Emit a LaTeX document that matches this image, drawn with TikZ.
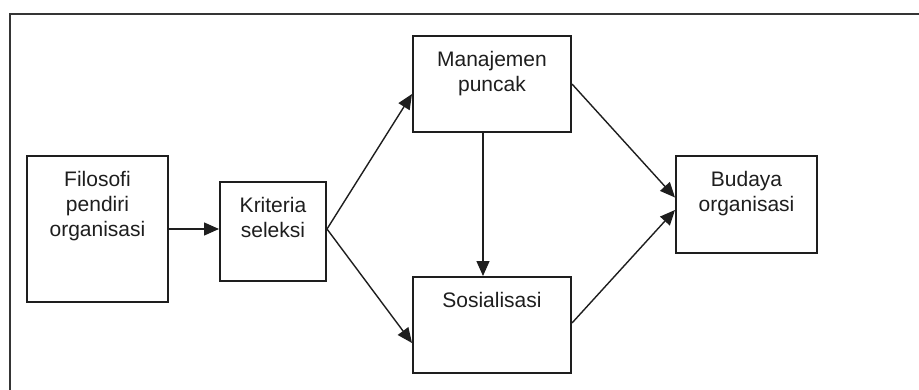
\documentclass[tikz,border=0pt]{standalone}
\usepackage{fontspec}
\setmainfont{Liberation Sans}
\usetikzlibrary{arrows.meta,calc}
\definecolor{ink}{HTML}{1E1E1E}
\begin{document}
\begin{tikzpicture}[x=1pt,y=-1pt,
  box/.style={draw=ink, line width=2pt, rectangle, inner sep=0pt},
  lbl/.style={anchor=north, yshift=-16pt, align=center, inner sep=0pt,
    text=ink, font=\fontsize{21}{25}\selectfont},
  flow/.style={draw=ink, line width=1.4pt, -{Triangle[length=15pt,width=13pt]}},
  frame/.style={draw=ink!90, line width=2pt}]
  \useasboundingbox (0,0) rectangle (919,389);
  \fill[white] (0,0) rectangle (919,389);

  % outer frame, open at the right and bottom
  \begin{scope}
    \clip (0,0) rectangle (919,389);
    \draw[frame] (10,400) -- (10,14) -- (930,14);
  \end{scope}

  % boxes
  \node[box, minimum width=141pt, minimum height=146pt,
    label={[lbl]north:Filosofi\\pendiri\\organisasi}] (f) at (97.5,229) {};
  \node[box, minimum width=106pt, minimum height=99pt,
    label={[lbl]north:Kriteria\\seleksi}] (k) at (273,231.5) {};
  \node[box, minimum width=158pt, minimum height=96pt,
    label={[lbl]north:Manajemen\\puncak}] (m) at (492,84) {};
  \node[box, minimum width=158pt, minimum height=96pt,
    label={[lbl]north:Sosialisasi}] (s) at (492,325) {};
  \node[box, minimum width=141pt, minimum height=97pt,
    label={[lbl]north:Budaya\\organisasi}] (b) at (746.5,204.5) {};

  % connectors
  \coordinate (ko) at (k.east |- f.east);
  \draw[flow] (f.east) -- (f.east -| k.west);
  \draw[flow] (ko) -- ([yshift=-10pt]m.west);
  \draw[flow] (ko) -- ([yshift=-18pt]s.west);
  \draw[flow] ([xshift=-9pt]m.south) -- ([xshift=-9pt]s.north);
  \draw[flow] (m.east) -- ([yshift=7pt]b.west);
  \draw[flow] ([yshift=2pt]s.east) -- ([yshift=-5.5pt]b.west);
\end{tikzpicture}
\end{document}
